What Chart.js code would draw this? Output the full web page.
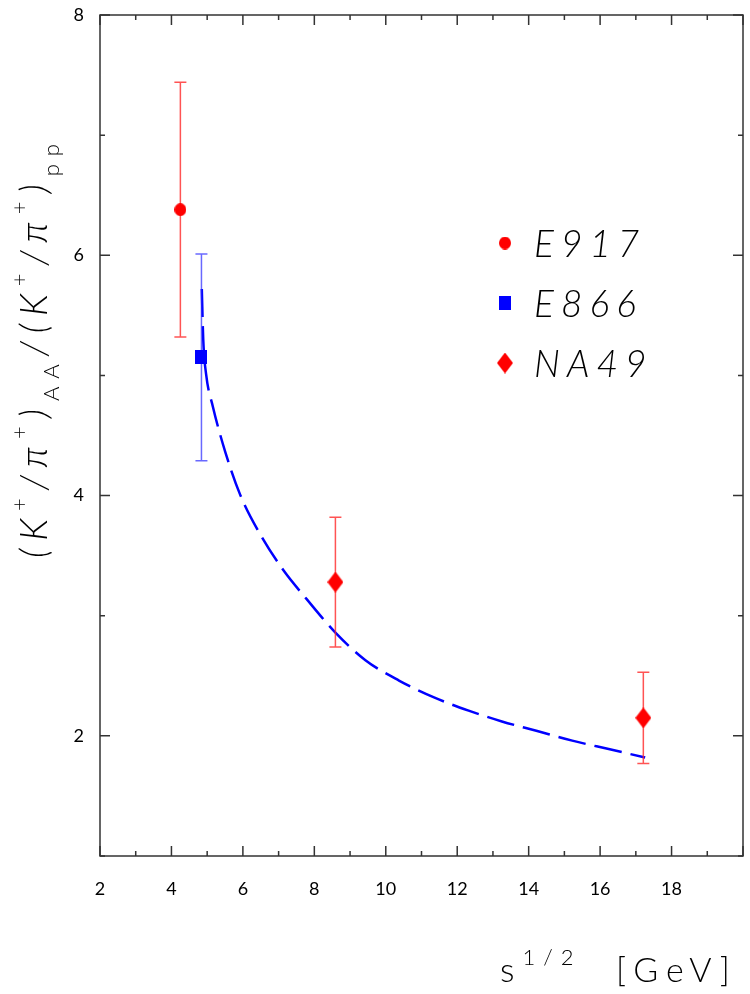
<!DOCTYPE html>
<html>
<head>
<meta charset="utf-8">
<script src="https://cdn.jsdelivr.net/npm/chart.js@4.4.1/dist/chart.umd.min.js"></script>
<style>
  body { margin: 0; background: #fff; }
  canvas { display: block; }
</style>
</head>
<body>
<canvas id="chart1" width="750" height="994"></canvas>
<script>
// measured double ratios vs sqrt(s)
var e917X = [4.25];
var e917Y = [6.38];
var e917Err = [1.06];

var e866X = [4.84];
var e866Y = [5.15];
var e866Err = [0.86];

var na49X = [8.59, 17.21];
var na49Y = [3.28, 2.15];
var na49Err = [0.54, 0.38];

// model curve
var curveX = [4.85, 4.89, 4.97, 5.16, 5.51, 5.92, 6.48, 7.13, 7.78, 8.59, 9.43, 10.37, 11.35, 12.32, 13.25, 14.24, 15.22, 16.24, 17.26];
var curveY = [5.72, 5.30, 5.01, 4.74, 4.36, 4.01, 3.68, 3.38, 3.14, 2.86, 2.63, 2.46, 2.32, 2.21, 2.12, 2.04, 1.96, 1.89, 1.82];

var xLabels = [2, 4, 6, 8, 10, 12, 14, 16, 18];
var yLabels = [2, 4, 6, 8];
var legendNames = ["E917", "E866", "NA49"];

var thin = "Lato, 'Open Sans', sans-serif";

function toPoints(xs, ys) {
	var pts = [];
	for (var i = 0; i < xs.length; i++) {
		pts.push({x: xs[i], y: ys[i]});
	}
	return pts;
}

// small canvases used as point styles
function makeMarker(shape, w, h, color) {
	var c = document.createElement("canvas");
	c.width = w;
	c.height = h;
	var g = c.getContext("2d");
	g.fillStyle = color;
	g.beginPath();
	if (shape == "circle") {
		g.ellipse(w / 2, h / 2, w / 2, h / 2, 0, 0, 2 * Math.PI);
	} else if (shape == "rect") {
		g.rect(0, 0, w, h);
	} else {
		g.moveTo(w / 2, 0);
		g.lineTo(w, h / 2);
		g.lineTo(w / 2, h);
		g.lineTo(0, h / 2);
		g.closePath();
	}
	g.fill();
	return c;
}

var circleMark = makeMarker("circle", 12, 13, "#ff0000");
var squareMark = makeMarker("rect", 12, 14, "#0000ff");
var diamondMark = makeMarker("diamond", 16, 21, "#ff0000");

// writes a run of text pieces (normal / super / sub) one after the other
function drawPieces(ctx, pieces, x, y, spacing) {
	var pos = x;
	ctx.letterSpacing = spacing + "px";
	pieces.forEach(function(p) {
		ctx.font = (p.italic ? "italic " : "") + "300 " + p.size + "px " + thin;
		ctx.fillText(p.t, pos, y + (p.dy || 0));
		pos += ctx.measureText(p.t).width;
	});
	ctx.letterSpacing = "0px";
	return pos - x;
}

// frame with inward ticks on all four sides
var framePlugin = {
	id: "frame",
	beforeDatasetsDraw: function(chart) {
		var a = chart.chartArea;
		var ctx = chart.ctx;
		var xs = chart.scales.x;
		var ys = chart.scales.y;
		ctx.save();
		ctx.strokeStyle = "#333";
		ctx.lineWidth = 1.5;
		ctx.strokeRect(a.left, a.top, a.right - a.left, a.bottom - a.top);
		ctx.beginPath();
		xs.ticks.forEach(function(t) {
			var px = xs.getPixelForValue(t.value);
			var len = t.value % 2 == 0 ? 10 : 5;
			ctx.moveTo(px, a.bottom);
			ctx.lineTo(px, a.bottom - len);
			ctx.moveTo(px, a.top);
			ctx.lineTo(px, a.top + len);
		});
		ys.ticks.forEach(function(t) {
			var py = ys.getPixelForValue(t.value);
			var len = t.value % 2 == 0 ? 10 : 5;
			ctx.moveTo(a.left, py);
			ctx.lineTo(a.left + len, py);
			ctx.moveTo(a.right, py);
			ctx.lineTo(a.right - len, py);
		});
		ctx.stroke();
		ctx.restore();
	}
};

// error bars, drawn after the curve and before the markers
var errorBarPlugin = {
	id: "errorBars",
	afterDatasetDraw: function(chart, args) {
		if (args.index != 3) return;
		var ctx = chart.ctx;
		var xs = chart.scales.x;
		var ys = chart.scales.y;
		chart.data.datasets.forEach(function(ds) {
			if (!ds.errors) return;
			ctx.save();
			ctx.strokeStyle = ds.barColor;
			ctx.lineWidth = 1.5;
			ctx.beginPath();
			ds.data.forEach(function(p, i) {
				var px = xs.getPixelForValue(p.x);
				var top = ys.getPixelForValue(p.y + ds.errors[i]);
				var bot = ys.getPixelForValue(p.y - ds.errors[i]);
				ctx.moveTo(px, top);
				ctx.lineTo(px, bot);
				ctx.moveTo(px - 6, top);
				ctx.lineTo(px + 6, top);
				ctx.moveTo(px - 6, bot);
				ctx.lineTo(px + 6, bot);
			});
			ctx.stroke();
			ctx.restore();
		});
	}
};

// axis titles and the legend box inside the plot
var textPlugin = {
	id: "texts",
	afterDraw: function(chart) {
		var ctx = chart.ctx;
		ctx.save();
		ctx.fillStyle = "#000";
		ctx.textBaseline = "alphabetic";
		ctx.textAlign = "left";

		// x title
		drawPieces(ctx, [
			{t: "s", size: 34},
			{t: "1/2", size: 22, dy: -17},
			{t: "  [GeV]", size: 34}
		], 500, 982, 8);

		// y title, rotated
		ctx.save();
		ctx.translate(47, 558);
		ctx.rotate(-Math.PI / 2);
		drawPieces(ctx, [
			{t: "(K", size: 37, italic: true},
			{t: "+", size: 22, dy: -20},
			{t: "/\u03c0", size: 37, italic: true},
			{t: "+", size: 22, dy: -20},
			{t: ")", size: 37, italic: true},
			{t: "AA", size: 22, dy: 12},
			{t: "/(K", size: 37, italic: true},
			{t: "+", size: 22, dy: -20},
			{t: "/\u03c0", size: 37, italic: true},
			{t: "+", size: 22, dy: -20},
			{t: ")", size: 37, italic: true},
			{t: "pp", size: 22, dy: 12}
		], 0, 0, 8);
		ctx.restore();

		// legend
		var marks = [circleMark, squareMark, diamondMark];
		var rowY = [243, 303, 363];
		for (var i = 0; i < legendNames.length; i++) {
			Chart.helpers.drawPoint(ctx, {pointStyle: marks[i], radius: 6, rotation: 0, borderWidth: 0}, 505, rowY[i]);
			drawPieces(ctx, [{t: legendNames[i], size: 37, italic: true}], 534, rowY[i] + 14, 7);
		}
		ctx.restore();
	}
};

var ctx = document.getElementById("chart1");

var chart = new Chart(ctx, {
	type: "scatter",
	data: {
		datasets: [
			{
				label: legendNames[0],
				data: toPoints(e917X, e917Y),
				errors: e917Err,
				barColor: "rgba(255, 40, 40, 0.8)",
				pointStyle: circleMark,
				pointRadius: 6
			},
			{
				label: legendNames[1],
				data: toPoints(e866X, e866Y),
				errors: e866Err,
				barColor: "rgba(40, 40, 255, 0.7)",
				pointStyle: squareMark,
				pointRadius: 6
			},
			{
				label: legendNames[2],
				data: toPoints(na49X, na49Y),
				errors: na49Err,
				barColor: "rgba(255, 40, 40, 0.8)",
				pointStyle: diamondMark,
				pointRadius: 6
			},
			{
				type: "line",
				label: "model",
				data: toPoints(curveX, curveY),
				borderColor: "#0000ff",
				borderWidth: 2.5,
				borderDash: [28, 9],
				pointRadius: 0,
				fill: false,
				cubicInterpolationMode: "monotone"
			}
		]
	},
	options: {
		responsive: false,
		animation: false,
		devicePixelRatio: 1,
		layout: {padding: {top: 15, right: 5, left: 0, bottom: 0}},
		plugins: {
			legend: {display: false},
			tooltip: {enabled: false}
		},
		scales: {
			x: {
				type: "linear",
				min: 2,
				max: 20,
				grid: {display: false},
				border: {display: false},
				ticks: {
					stepSize: 1,
					autoSkip: false,
					maxRotation: 0,
					padding: 14,
					color: "#000",
					font: {family: thin, size: 18, weight: 400},
					callback: function(v) {
						return xLabels.indexOf(v) >= 0 ? String(v) : "";
					}
				},
				afterFit: function(scale) {
					scale.height = 138;
					scale.paddingLeft = 0;
					scale.paddingRight = 0;
				}
			},
			y: {
				type: "linear",
				min: 1,
				max: 8,
				grid: {display: false},
				border: {display: false},
				ticks: {
					stepSize: 1,
					autoSkip: false,
					padding: 8,
					color: "#000",
					font: {family: thin, size: 18, weight: 400},
					callback: function(v) {
						return yLabels.indexOf(v) >= 0 ? String(v) : "";
					}
				},
				afterFit: function(scale) {
					scale.width = 100;
					scale.paddingTop = 0;
					scale.paddingBottom = 0;
				}
			}
		}
	},
	plugins: [framePlugin, errorBarPlugin, textPlugin]
});
</script>
</body>
</html>
